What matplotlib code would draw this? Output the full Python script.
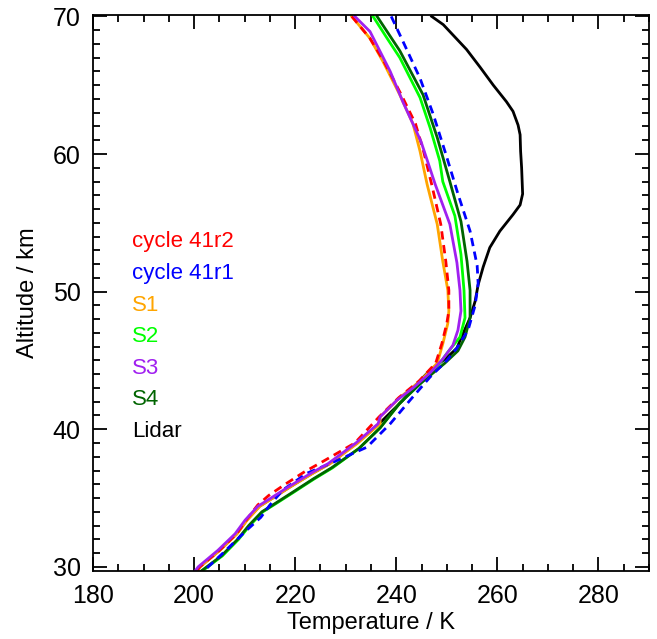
import numpy as np
import matplotlib.pyplot as plt
from matplotlib.ticker import MultipleLocator

plt.rcParams['font.family'] = ['Liberation Sans', 'DejaVu Sans']

# temperature (K) / altitude (km) profiles
alt_common_low = [40.4, 39.0, 37.5, 36.8, 35.8, 35.0, 34.4, 33.4, 32.4, 31.2, 30.0, 29.7]
t_common_low = [236.8, 232.4, 226.9, 223.5, 219.0, 215.6, 213.0, 210.5, 208.5, 205.1, 201.2, 200.6]

s1_alt = [70.0, 68.4, 66.7, 64.3, 62.2, 60.2, 57.8, 54.9, 52.2, 50.1, 48.6, 47.7, 46.2, 44.8, 43.5, 42.3, 40.9]
s1_t = [231.2, 234.8, 237.4, 240.7, 243.3, 244.7, 246.1, 248.1, 249.2, 250.2, 250.4, 250.2, 249.2, 248.1, 244.7, 240.7, 236.8]

r2_alt = [70.0, 68.4, 66.7, 64.3, 62.2, 60.2, 57.8, 54.9, 52.2, 50.1, 48.6, 47.7, 46.2, 44.8, 43.5, 42.3, 40.9,
          39.0, 37.6, 36.9, 36.0, 35.2, 34.5, 33.4, 32.4, 31.2, 30.0, 29.7]
r2_t = [231.2, 234.8, 237.6, 241.0, 243.8, 245.4, 247.0, 248.8, 249.8, 250.4, 250.4, 250.0, 249.0, 247.8, 244.5, 240.5, 236.6,
        231.8, 225.2, 221.8, 218.0, 214.8, 212.6, 210.3, 208.4, 205.0, 201.1, 200.5]

s3_alt = [70.0, 68.9, 66.0, 63.8, 60.9, 57.8, 54.9, 52.1, 50.1, 48.6, 47.2, 46.1, 45.1, 44.1, 43.0, 42.1, 40.9]
s3_t = [231.8, 234.8, 238.8, 241.3, 244.9, 247.7, 250.6, 252.0, 252.6, 252.8, 252.2, 251.2, 249.2, 246.7, 243.3, 240.1, 236.8]

s2_alt = [70.0, 68.4, 67.0, 64.1, 61.9, 59.5, 58.0, 55.5, 52.7, 50.1, 48.1, 46.7, 45.6, 44.8, 43.3, 41.9, 40.1,
          38.6, 37.2, 36.4, 35.4, 34.6, 34.0, 33.0, 32.0, 30.8, 29.7]
s2_t = [235.4, 238.2, 240.7, 244.7, 246.7, 248.6, 249.2, 251.6, 252.8, 253.4, 253.6, 252.6, 250.2, 248.6, 244.7, 240.7, 236.8,
        232.6, 227.4, 223.8, 219.6, 216.2, 213.6, 211.0, 208.8, 205.6, 201.6]

s4_alt = [70.0, 67.5, 64.3, 61.2, 58.0, 55.1, 52.2, 50.1, 48.1, 46.7, 45.7, 44.8, 43.3, 41.9, 40.1,
          38.6, 37.2, 36.4, 35.4, 34.6, 34.0, 33.0, 32.0, 30.8, 29.7]
s4_t = [236.2, 240.7, 245.3, 248.1, 250.6, 252.8, 254.0, 254.6, 254.6, 253.6, 252.2, 249.6, 244.7, 240.7, 236.8,
        232.6, 227.2, 223.6, 219.4, 216.0, 213.4, 210.8, 208.6, 205.4, 201.4]

r1_alt = [70.0, 68.2, 65.5, 62.9, 60.0, 57.1, 54.4, 51.9, 50.6, 49.0, 47.2, 45.9, 45.0, 43.8, 42.1, 40.4, 38.7,
          37.6, 36.8, 35.6, 34.5, 33.6, 32.7, 31.0, 29.7]
r1_t = [239.0, 241.3, 244.7, 247.3, 249.8, 252.2, 254.6, 256.0, 256.2, 255.6, 254.2, 252.0, 250.0, 246.7, 242.7, 238.8, 234.2,
        227.5, 222.3, 217.6, 215.0, 213.2, 210.5, 205.7, 201.9]

lidar_alt = [70.0, 69.4, 67.6, 66.3, 65.0, 63.8, 63.1, 62.1, 61.4, 60.2, 59.0, 57.1, 56.3, 55.6, 54.4, 53.2, 51.8, 50.5,
             49.3, 48.1, 46.7, 45.9, 45.2, 44.3, 43.0, 42.1, 40.4, 39.0, 37.5, 36.8, 35.8, 35.0, 34.4, 33.4, 32.4,
             31.2, 30.0, 29.7]
lidar_t = [247.0, 249.3, 253.9, 256.6, 259.2, 261.8, 263.1, 264.1, 264.5, 264.6, 264.8, 265.0, 264.5, 263.1, 260.5, 258.5,
           257.2, 256.2, 255.6, 254.6, 252.9, 252.0, 250.0, 246.7, 243.3, 241.3, 236.6, 232.2, 226.8, 223.4, 218.9,
           215.5, 212.9, 210.4, 208.4, 205.0, 201.1, 200.5]

labels = ['cycle 41r2', 'cycle 41r1', 'S1', 'S2', 'S3', 'S4', 'Lidar']
colors = ['#ff0000', '#0000ff', '#ffa500', '#00ff00', '#a020f0', '#006400', '#000000']

fig = plt.figure(figsize=(6.57, 6.39), dpi=100)
ax = fig.add_axes([0.1416, 0.1064, 0.8462, 0.8701])

lw = 2.0
kw = dict(lw=lw, solid_joinstyle='round', dash_joinstyle='round')
ax.plot(lidar_t, lidar_alt, color=colors[6], **kw)
ax.plot(s2_t, s2_alt, color=colors[3], **kw)
ax.plot(s4_t, s4_alt, color=colors[5], **kw)
ax.plot(s1_t + t_common_low, s1_alt + alt_common_low, color=colors[2], **kw)
ax.plot(r2_t, r2_alt, color=colors[0], dashes=(3, 2), **kw)
ax.plot(r1_t, r1_alt, color=colors[1], dashes=(3, 2), **kw)
ax.plot(s3_t + [t - 0.4 for t in t_common_low], s3_alt + alt_common_low, color=colors[4], **kw)

ax.set_xlim(180, 290)
ax.set_ylim(29.7, 70.1)
ax.set_xticks([180, 200, 220, 240, 260, 280])
ax.set_yticks([30, 40, 50, 60, 70])
ax.xaxis.set_minor_locator(MultipleLocator(5))
ax.yaxis.set_minor_locator(MultipleLocator(1))
ax.tick_params(which='both', direction='in', top=True, right=True, labelsize=18, width=1.3)
ax.tick_params(which='major', length=10, pad=9)
ax.tick_params(which='minor', length=5)
for s in ax.spines.values():
    s.set_linewidth(1.3)

ax.set_xlabel('Temperature / K', fontsize=17, labelpad=3)
ax.set_ylabel('Altitude / km', fontsize=17, labelpad=10)

for i, (lab, c) in enumerate(zip(labels, colors)):
    ax.text(0.070, 0.592 - i * 0.0568, lab, color=c, fontsize=16,
            transform=ax.transAxes, va='center', ha='left')

fig.savefig('out.png', dpi=100)
